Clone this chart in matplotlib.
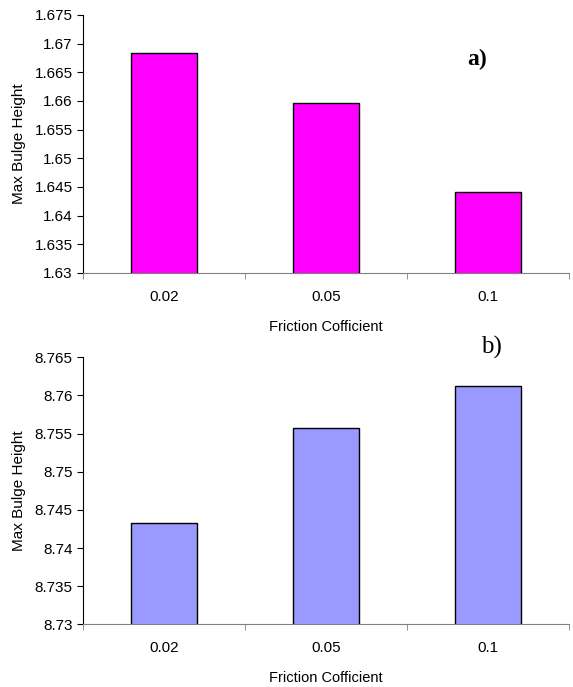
import matplotlib
matplotlib.use("Agg")
import matplotlib.pyplot as plt
import numpy as np

categories = ["0.02", "0.05", "0.1"]
values_a = [1.6684, 1.6596, 1.6442]
values_b = [8.7433, 8.7557, 8.7613]
yticks_a = [1.63, 1.635, 1.64, 1.645, 1.65, 1.655, 1.66, 1.665, 1.67, 1.675]
yticks_b = [8.73, 8.735, 8.74, 8.745, 8.75, 8.755, 8.76, 8.765]
ytick_labels_a = ["1.63", "1.635", "1.64", "1.645", "1.65", "1.655", "1.66", "1.665", "1.67", "1.675"]
ytick_labels_b = ["8.73", "8.735", "8.74", "8.745", "8.75", "8.755", "8.76", "8.765"]

plt.rcParams['font.family'] = ['Liberation Sans', 'DejaVu Sans']

W, H = 573, 687
fig = plt.figure(figsize=(W/100, H/100), dpi=100)

def make_ax(top_px, bot_px, values, color, yticks, ylabels, letter, letter_xy, bold, lsize):
    ax = fig.add_axes([83/W, (H-bot_px)/H, (569-83)/W, (bot_px-top_px)/H])
    x = np.arange(len(categories))
    ax.bar(x, values, width=0.41, color=color, edgecolor='black', linewidth=1.0, zorder=3)
    ax.set_xlim(-0.5, len(categories)-0.5)
    ax.set_ylim(yticks[0], yticks[-1])
    ax.set_yticks(yticks)
    ax.set_yticklabels(ylabels, fontsize=11)
    ax.set_xticks(x)
    ax.set_xticklabels(categories, fontsize=11)
    ax.tick_params(axis='x', which='major', length=0, pad=12)
    ax.set_xticks(np.arange(-0.5, len(categories)), minor=True)
    ax.tick_params(axis='x', which='minor', length=4, color='#808080')
    ax.tick_params(axis='y', length=4, pad=3.5)
    ax.spines['top'].set_visible(False)
    ax.spines['right'].set_visible(False)
    ax.spines['bottom'].set_color('#808080')
    ax.spines['left'].set_color('black')
    ax.set_ylabel("Max Bulge Height", fontsize=11, labelpad=6)
    ax.set_xlabel("Friction Cofficient", fontsize=10.5, labelpad=11.5)
    fig.text(letter_xy[0]/W, 1-letter_xy[1]/H, letter, fontsize=lsize,
             family='Liberation Serif', fontweight='bold' if bold else 'normal',
             ha='center', va='center')
    return ax

make_ax(15, 273, values_a, '#FF00FF', yticks_a, ytick_labels_a, 'a)', (477, 59), True, 17)
make_ax(357.3, 624.3, values_b, '#9999FF', yticks_b, ytick_labels_b, 'b)', (491, 347), False, 18)

fig.savefig("out.png", dpi=100)
